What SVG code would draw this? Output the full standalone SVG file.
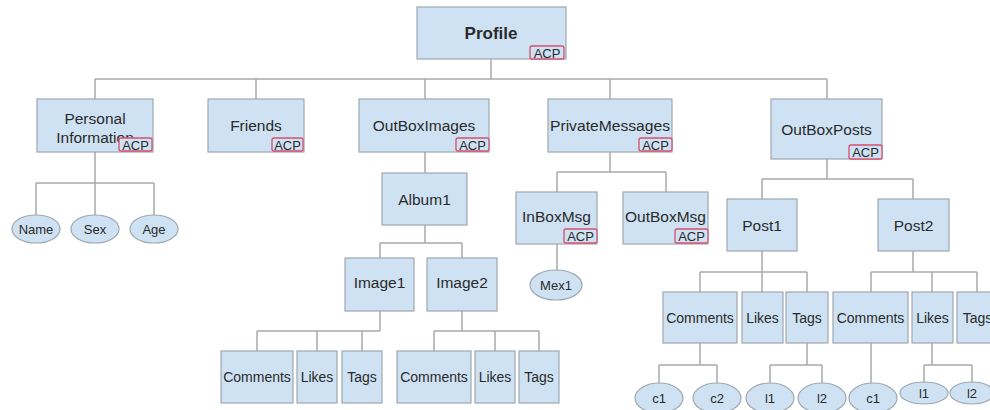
<svg xmlns="http://www.w3.org/2000/svg" width="990" height="410" viewBox="0 0 990 410">
<style>
.b{fill:#cfe2f3;stroke:#9ea7b0;stroke-width:1.2}
.e{fill:#cfe2f3;stroke:#9ea7b0;stroke-width:1.2}
.acp{fill:#cfe2f3;stroke:#d6506e;stroke-width:1.3}
.c{fill:none;stroke:#a9a9a9;stroke-width:1.5}
text{font-family:"Liberation Sans",Arial,sans-serif;fill:#2a2a2a;text-anchor:middle}
.t{font-size:15.5px}
.s{font-size:14px}
.l{font-size:13px}
.a{font-size:13px}
.p{font-size:17px;font-weight:bold}
</style>
<rect width="990" height="410" fill="#ffffff"/>
<g id="connectors" class="c">
<path d="M491 59V79M95 79H827M95 79V99M256 79V99M425 79V99M610 79V99M827 79V99"/>
<path d="M95 152V215M36 183H154M36 183V215M154 183V215"/>
<path d="M425 152V173"/>
<path d="M425 225V243M380 243H462M380 243V258M462 243V258"/>
<path d="M380 311V331M257 331H380M257 331V351M317 331V351M362 331V351"/>
<path d="M462 311V331M434 331H539M434 331V351M495 331V351M539 331V351"/>
<path d="M610 152V172M557 172H666M557 172V192M666 172V192"/>
<path d="M557 244V270"/>
<path d="M827 159V179M762 179H913M762 179V199M913 179V199"/>
<path d="M762 251V272M700 272H807M700 272V292M762 272V292M807 272V292"/>
<path d="M913 251V272M871 272H977M871 272V292M932 272V292M977 272V292"/>
<path d="M700 343V365M659 365H717M659 365V383M717 365V383"/>
<path d="M807 343V365M770 365H822M770 365V383M822 365V383"/>
<path d="M871 343V383"/>
<path d="M932 343V365M924 365H972M924 365V382M972 365V382"/>
</g>
<g id="profile"><rect class="b" x="417" y="7" width="149" height="52"/><text class="p" x="491" y="39">Profile</text><rect class="acp" x="530" y="46" width="34" height="13" rx="2"/><text class="a" x="547" y="57.5">ACP</text></g>
<g id="personal"><rect class="b" x="37" y="99" width="116" height="53"/><text class="t" x="95" y="124">Personal</text><text class="t" x="95" y="143">Information</text><rect class="acp" x="119" y="138" width="33" height="13" rx="2"/><text class="a" x="135.5" y="149.5">ACP</text></g>
<g id="friends"><rect class="b" x="208" y="99" width="96" height="53"/><text class="t" x="256" y="131">Friends</text><rect class="acp" x="272" y="138" width="31" height="13" rx="2"/><text class="a" x="287.5" y="149.5">ACP</text></g>
<g id="outboximages"><rect class="b" x="359" y="99" width="130" height="53"/><text class="t" x="424" y="131">OutBoxImages</text><rect class="acp" x="456" y="138" width="33" height="13" rx="2"/><text class="a" x="472.5" y="149.5">ACP</text></g>
<g id="privatemessages"><rect class="b" x="548" y="99" width="124" height="53"/><text class="t" x="610" y="131" textLength="120" lengthAdjust="spacingAndGlyphs">PrivateMessages</text><rect class="acp" x="639" y="138" width="33" height="13" rx="2"/><text class="a" x="655.5" y="149.5">ACP</text></g>
<g id="outboxposts"><rect class="b" x="771" y="99" width="111" height="60"/><text class="t" x="826.5" y="135">OutBoxPosts</text><rect class="acp" x="849" y="145" width="33" height="14" rx="2"/><text class="a" x="865.5" y="157">ACP</text></g>
<g id="name"><ellipse class="e" cx="36" cy="229" rx="24" ry="14"/><text class="l" x="36" y="233.5">Name</text></g>
<g id="sex"><ellipse class="e" cx="95" cy="229" rx="24" ry="14"/><text class="l" x="95" y="233.5">Sex</text></g>
<g id="age"><ellipse class="e" cx="154" cy="229" rx="24" ry="14"/><text class="l" x="154" y="233.5">Age</text></g>
<g id="album1"><rect class="b" x="382" y="173" width="85" height="52"/><text class="t" x="424.5" y="205">Album1</text></g>
<g id="image1"><rect class="b" x="345" y="258" width="69" height="53"/><text class="t" x="379.5" y="288">Image1</text></g>
<g id="image2"><rect class="b" x="427" y="258" width="70" height="53"/><text class="t" x="462" y="288">Image2</text></g>
<g id="img1-comments"><rect class="b" x="221" y="351" width="72" height="52"/><text class="s" x="257" y="382">Comments</text></g>
<g id="img1-likes"><rect class="b" x="297" y="351" width="40" height="52"/><text class="s" x="317" y="382">Likes</text></g>
<g id="img1-tags"><rect class="b" x="342" y="351" width="40" height="52"/><text class="s" x="362" y="382">Tags</text></g>
<g id="img2-comments"><rect class="b" x="397" y="351" width="74" height="52"/><text class="s" x="434" y="382">Comments</text></g>
<g id="img2-likes"><rect class="b" x="475" y="351" width="40" height="52"/><text class="s" x="495" y="382">Likes</text></g>
<g id="img2-tags"><rect class="b" x="519" y="351" width="40" height="52"/><text class="s" x="539" y="382">Tags</text></g>
<g id="inboxmsg"><rect class="b" x="516" y="192" width="81" height="52"/><text class="t" x="556.5" y="222">InBoxMsg</text><rect class="acp" x="564" y="229" width="33" height="14" rx="2"/><text class="a" x="580.5" y="241">ACP</text></g>
<g id="outboxmsg"><rect class="b" x="623" y="192" width="85" height="52"/><text class="t" x="665.5" y="222">OutBoxMsg</text><rect class="acp" x="675" y="229" width="33" height="14" rx="2"/><text class="a" x="691.5" y="241">ACP</text></g>
<g id="mex1"><ellipse class="e" cx="556" cy="285" rx="26" ry="15"/><text class="l" x="556" y="289.5">Mex1</text></g>
<g id="post1"><rect class="b" x="727" y="199" width="70" height="52"/><text class="t" x="762" y="231">Post1</text></g>
<g id="post2"><rect class="b" x="878" y="199" width="71" height="52"/><text class="t" x="913.5" y="231">Post2</text></g>
<g id="post1-comments"><rect class="b" x="663" y="292" width="74" height="51"/><text class="s" x="700" y="323">Comments</text></g>
<g id="post1-likes"><rect class="b" x="742" y="292" width="41" height="51"/><text class="s" x="762.5" y="323">Likes</text></g>
<g id="post1-tags"><rect class="b" x="786" y="292" width="42" height="51"/><text class="s" x="807" y="323">Tags</text></g>
<g id="post2-comments"><rect class="b" x="833" y="292" width="75" height="51"/><text class="s" x="870.5" y="323">Comments</text></g>
<g id="post2-likes"><rect class="b" x="912" y="292" width="41" height="51"/><text class="s" x="932.5" y="323">Likes</text></g>
<g id="post2-tags"><rect class="b" x="957" y="292" width="41" height="51"/><text class="s" x="977.5" y="323">Tags</text></g>
<g id="p1-c1"><ellipse class="e" cx="659" cy="398" rx="24" ry="15"/><text class="l" x="659" y="402.5">c1</text></g>
<g id="p1-c2"><ellipse class="e" cx="717" cy="398" rx="24" ry="15"/><text class="l" x="717" y="402.5">c2</text></g>
<g id="p1-l1"><ellipse class="e" cx="770" cy="398" rx="24" ry="15"/><text class="l" x="770" y="402.5">l1</text></g>
<g id="p1-l2"><ellipse class="e" cx="822" cy="398" rx="24" ry="15"/><text class="l" x="822" y="402.5">l2</text></g>
<g id="p2-c1"><ellipse class="e" cx="873" cy="398" rx="24" ry="15"/><text class="l" x="873" y="402.5">c1</text></g>
<g id="p2-l1"><ellipse class="e" cx="924" cy="393" rx="24" ry="11"/><text class="l" x="924" y="397.5">l1</text></g>
<g id="p2-l2"><ellipse class="e" cx="972" cy="393" rx="22" ry="11"/><text class="l" x="972" y="397.5">l2</text></g>
</svg>
